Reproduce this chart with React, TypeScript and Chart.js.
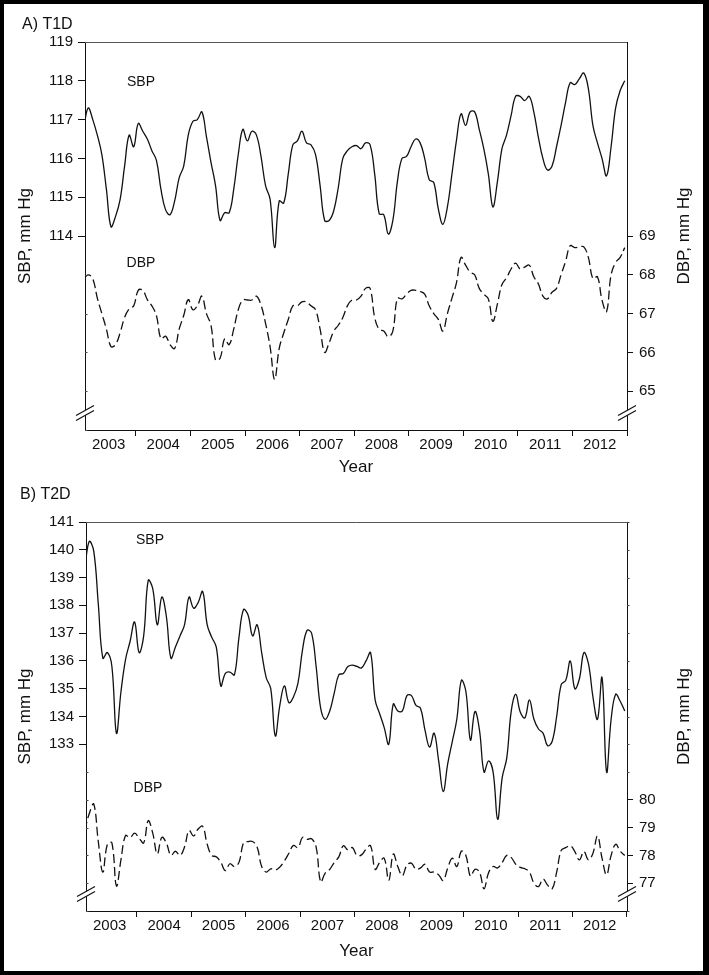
import React, { useEffect, useRef } from 'react';
import { Chart, registerables } from 'chart.js';

Chart.register(...registerables);
Chart.defaults.font.family = "'Liberation Sans', Arial, sans-serif";
Chart.defaults.color = '#111';

// ---- categories ----
const YEARS = [2003, 2004, 2005, 2006, 2007, 2008, 2009, 2010, 2011, 2012];
const YEAR_LABELS = ['2003', '2004', '2005', '2006', '2007', '2008', '2009', '2010', '2011', '2012'];
// monthly positions (mid-month) Jan 2003 .. Dec 2012
const MONTHS = YEARS.flatMap((y) => Array.from({ length: 12 }, (_, m) => y + (m + 0.5) / 12));

// ---- A) T1D ----
const T1D_SBP = [
  116.8, 117.3, 117.0, 116.6, 116.1, 115.2, 114.24, 114.5, 114.93, 115.8, 116.6, 116.3,
  116.9, 116.7, 116.5, 116.2, 115.95, 115.2, 114.68, 114.55, 114.9, 115.5, 115.8, 116.6,
  116.95, 117.0, 117.2, 116.56, 115.9, 115.3, 114.4, 114.6, 114.6, 115.2, 116.1, 116.75,
  116.45, 116.7, 116.6, 116.05, 115.3, 114.95, 113.7, 114.9, 114.85, 115.6, 116.35, 116.45,
  116.7, 116.4, 116.35, 116.1, 115.3, 114.4, 114.4, 114.65, 115.25, 116.0, 116.2, 116.3,
  116.33, 116.25, 116.4, 116.35, 115.6, 114.57, 114.55, 114.05, 114.4, 115.4, 116.0, 116.05,
  116.3, 116.5, 116.4, 116.0, 115.45, 115.38, 114.7, 114.3, 114.75, 115.6, 116.47, 117.15,
  116.85, 117.2, 117.2, 116.75, 116.25, 115.6, 114.75, 115.4, 116.25, 116.6, 117.1, 117.6,
  117.6, 117.49, 117.6, 117.2, 116.55, 116.0, 115.7, 115.8, 116.3, 116.85, 117.45, 117.95,
  117.9, 118.05, 118.2, 117.8, 116.85, 116.4, 116.0, 115.55, 116.3, 117.3, 117.75, 118.0,
];
const T1D_DBP = [
  67.9, 68.0, 67.9, 67.4, 67.0, 66.6, 66.15, 66.2, 66.5, 66.9, 67.12, 67.2,
  67.6, 67.6, 67.36, 67.2, 66.95, 66.35, 66.42, 66.2, 66.1, 66.6, 66.95, 67.36,
  67.1, 67.2, 67.45, 67.0, 66.7, 65.8, 65.85, 66.35, 66.2, 66.6, 67.1, 67.35,
  67.35, 67.35, 67.45, 67.22, 66.75, 66.15, 65.3, 66.1, 66.5, 66.85, 67.2, 67.2,
  67.3, 67.3, 67.2, 67.1, 66.6, 66.0, 66.25, 66.55, 66.7, 66.9, 67.2, 67.35,
  67.35, 67.45, 67.65, 67.65, 66.9, 66.59, 66.55, 66.4, 66.55, 67.4, 67.38, 67.5,
  67.6, 67.6, 67.57, 67.5, 67.2, 67.0, 66.85, 66.55, 67.0, 67.4, 67.8, 68.45,
  68.25, 68.07, 68.0, 67.65, 67.5, 67.38, 66.8, 67.25, 67.75, 67.92, 68.15, 68.3,
  68.15, 68.2, 68.25, 67.95, 67.77, 67.45, 67.38, 67.55, 67.65, 68.0, 68.35, 68.75,
  68.7, 68.72, 68.72, 68.45, 67.9, 67.95, 67.35, 67.05, 68.0, 68.32, 68.45, 68.7,
];
const T1D_SBP_LABELS = [114, 115, 116, 117, 118, 119];
const T1D_DBP_LABELS = [65, 66, 67, 68, 69];

// ---- B) T2D ----
const T2D_SBP = [
  139.3, 140.3, 139.95, 138.05, 136.1, 136.3, 135.8, 133.4, 134.9, 136.05, 136.7, 137.4,
  136.3, 136.9, 138.9, 138.6, 137.3, 138.3, 137.6, 136.1, 136.5, 136.9, 137.3, 138.3,
  137.9, 138.1, 138.5, 137.3, 136.85, 136.5, 135.1, 135.55, 135.6, 135.5, 136.85, 137.85,
  137.65, 136.9, 137.3, 136.3, 135.4, 135.0, 133.3, 134.4, 135.1, 134.5, 134.7, 135.2,
  136.4, 137.1, 137.0, 135.8, 134.3, 133.9, 134.2, 134.85, 135.5, 135.55, 135.8, 135.85,
  135.8, 135.75, 136.0, 136.3, 134.6, 134.1, 133.6, 133.0, 134.45, 134.2, 134.2, 134.75,
  134.75, 134.4, 134.3, 133.5, 132.9, 133.4, 132.4, 131.3, 132.3, 133.1, 133.9, 135.3,
  134.9, 133.15, 134.18, 133.5, 132.0, 132.4, 132.0, 130.3, 131.8, 132.5, 134.2, 134.8,
  134.15, 133.95, 134.6, 133.9, 133.55, 133.4, 132.95, 133.1, 134.0, 135.15, 135.3, 136.0,
  135.0, 135.35, 136.3, 135.9, 134.7, 133.9, 135.4, 132.0, 133.9, 134.8, 134.55, 134.2,
];
const T2D_DBP = [
  78.9, 79.5, 79.85, 78.5, 77.4, 78.4, 78.45, 76.9, 77.85, 78.72, 78.64, 78.8,
  78.62, 78.45, 79.25, 78.8, 78.05, 78.65, 78.45, 78.0, 78.15, 78.0, 78.3, 78.9,
  78.7, 78.95, 79.05, 78.4, 78.0, 77.95, 77.75, 77.45, 77.7, 77.6, 77.75, 78.45,
  78.5, 78.5, 78.3, 77.6, 77.4, 77.52, 77.47, 77.58, 77.8, 78.08, 78.36, 78.28,
  78.65, 78.58, 78.6, 78.3, 77.05, 77.36, 77.5, 77.75, 77.95, 78.35, 78.2, 78.28,
  78.0, 78.02, 78.23, 78.35, 77.5, 77.75, 77.9, 77.1, 78.05, 77.6, 77.27, 77.65,
  77.72, 77.5, 77.55, 77.68, 77.4, 77.4, 77.3, 77.1, 77.55, 77.9, 77.6, 78.15,
  78.0, 77.25, 77.5, 77.4, 76.8, 77.38, 77.6, 77.55, 77.75, 78.0, 77.92, 77.68,
  77.57, 77.52, 77.4, 77.0, 76.88, 77.15, 76.93, 76.8, 77.4, 78.18, 78.28, 78.35,
  78.14, 77.84, 78.14, 77.84, 78.08, 78.7, 77.9, 77.3, 78.0, 78.4, 78.15, 78.0,
];
const T2D_SBP_LABELS = [133, 134, 135, 136, 137, 138, 139, 140, 141];
const T2D_DBP_LABELS = [77, 78, 79, 80];

const INK = '#111';
const FONT = "'Liberation Sans', Arial, sans-serif";

const overlayPlugin = {
  id: 'overlay',
  afterDraw(chart: any, _args: any, o: any) {
    const { ctx, chartArea: a } = chart;
    ctx.save();
    // top frame of plot
    ctx.strokeStyle = '#555';
    ctx.lineWidth = 1;
    ctx.beginPath();
    ctx.moveTo(a.left, Math.round(a.top) + 0.5);
    ctx.lineTo(a.right, Math.round(a.top) + 0.5);
    ctx.stroke();
    // tiny minor marks for unlabeled ticks
    ctx.strokeStyle = '#444';
    ctx.lineWidth = 1;
    const minor = (id: string, labels: number[], x0: number, dir: number) => {
      const s = chart.scales[id];
      for (const t of s.ticks) {
        if (labels.includes(t.value)) continue;
        const y = Math.round(s.getPixelForValue(t.value)) + 0.5;
        ctx.beginPath();
        ctx.moveTo(x0, y);
        ctx.lineTo(x0 + dir * 2.5, y);
        ctx.stroke();
      }
    };
    minor('ySBP', o.sbpLabels, a.left, 1);
    minor('yDBP', o.dbpLabels, a.right, 1);
    // axis break marks
    const cy = a.bottom - o.breakOffset;
    for (const x of [a.left, a.right]) {
      ctx.fillStyle = '#fff';
      ctx.beginPath();
      ctx.moveTo(x - 8, cy + 1);
      ctx.lineTo(x + 8, cy - 8);
      ctx.lineTo(x + 8, cy - 3);
      ctx.lineTo(x - 8, cy + 6);
      ctx.closePath();
      ctx.fill();
      ctx.strokeStyle = INK;
      ctx.lineWidth = 1.2;
      ctx.beginPath();
      ctx.moveTo(x - 9, cy + 1.5);
      ctx.lineTo(x + 9, cy - 8.5);
      ctx.moveTo(x - 9, cy + 6.5);
      ctx.lineTo(x + 9, cy - 3.5);
      ctx.stroke();
    }
    ctx.fillStyle = INK;
    // panel label
    ctx.font = `16px ${FONT}`;
    ctx.textAlign = 'left';
    ctx.textBaseline = 'middle';
    ctx.fillText(o.label, o.labelX, o.labelY);
    // series annotations
    ctx.font = `14px ${FONT}`;
    ctx.textAlign = 'center';
    ctx.fillText('SBP', o.sbpX, o.sbpY);
    ctx.fillText('DBP', o.dbpX, o.dbpY);
    // right axis title (reads bottom-to-top)
    ctx.font = `17px ${FONT}`;
    ctx.translate(o.rightTitleX, (a.top + a.bottom) / 2);
    ctx.rotate(-Math.PI / 2);
    ctx.fillText('DBP, mm Hg', 0, 0);
    ctx.restore();
  },
};

function range(a: number, b: number) {
  const r: number[] = [];
  for (let v = a; v <= b; v++) r.push(v);
  return r;
}

function makeConfig(p: any) {
  const tickColor = (labels: number[]) => (c: any) =>
    c.tick && labels.includes(c.tick.value) ? INK : 'rgba(0,0,0,0)';
  return {
    type: 'line',
    data: {
      datasets: [
        {
          data: p.sbp.map((v: number, i: number) => ({ x: MONTHS[i], y: v })),
          yAxisID: 'ySBP',
          borderColor: INK,
          borderWidth: 1.3,
          pointRadius: 0,
          tension: 0.4,
          fill: false,
        },
        {
          data: p.dbp.map((v: number, i: number) => ({ x: MONTHS[i], y: v })),
          yAxisID: 'yDBP',
          borderColor: INK,
          borderWidth: 1.3,
          borderDash: [9, 4],
          pointRadius: 0,
          tension: 0.4,
          fill: false,
        },
      ],
    },
    options: {
      responsive: false,
      animation: false,
      events: [],
      layout: { padding: { top: p.padTop, left: 0, right: 0, bottom: 0 } },
      plugins: {
        legend: { display: false },
        tooltip: { enabled: false },
        overlay: { ...p.overlay, sbpLabels: p.sbpLabels, dbpLabels: p.dbpLabels },
      },
      scales: {
        x: {
          type: 'linear',
          bounds: 'data',
          min: 2003.066,
          max: 2013,
          afterBuildTicks: (s: any) => {
            s.ticks = YEARS.map((y) => ({ value: y + 0.5 }));
          },
          afterFit: (s: any) => {
            s.height = p.xAxisH;
          },
          grid: { offset: true, drawOnChartArea: false, drawTicks: true, tickLength: 6, color: INK, lineWidth: 1 },
          border: { display: true, color: INK, width: 1 },
          ticks: {
            autoSkip: false,
            maxRotation: 0,
            padding: 0,
            color: INK,
            font: { size: 15 },
            callback: (_v: any, i: number) => YEAR_LABELS[i],
          },
          title: { display: true, text: 'Year', color: INK, font: { size: 17 }, padding: { top: 0, bottom: p.yearPad } },
        },
        ySBP: {
          type: 'linear',
          position: 'left',
          min: p.sbpRange[0],
          max: p.sbpRange[1],
          afterBuildTicks: (s: any) => {
            s.ticks = range(p.sbpRange[0], p.sbpRange[1]).map((v) => ({ value: v }));
          },
          afterFit: (s: any) => {
            s.width = p.leftW;
          },
          grid: { drawOnChartArea: false, drawTicks: true, tickLength: 7, color: tickColor(p.sbpLabels) },
          border: { display: true, color: INK, width: 1 },
          ticks: {
            padding: 5,
            color: INK,
            font: { size: 15 },
            callback: (v: number) => (p.sbpLabels.includes(v) ? String(v) : ''),
          },
          title: { display: true, text: 'SBP, mm Hg', color: INK, font: { size: 17 }, padding: { top: 15, bottom: 0 } },
        },
        yDBP: {
          type: 'linear',
          position: 'right',
          min: p.dbpRange[0],
          max: p.dbpRange[1],
          afterBuildTicks: (s: any) => {
            s.ticks = p.dbpTicks.map((v: number) => ({ value: v }));
          },
          afterFit: (s: any) => {
            s.width = p.rightW;
          },
          grid: { drawOnChartArea: false, drawTicks: true, tickLength: 6, color: tickColor(p.dbpLabels) },
          border: { display: true, color: INK, width: 1 },
          ticks: {
            padding: 6,
            color: INK,
            font: { size: 15 },
            callback: (v: number) => (p.dbpLabels.includes(v) ? String(v) : ''),
          },
        },
      },
    },
    plugins: [overlayPlugin],
  };
}

const PANEL_A = {
  sbp: T1D_SBP,
  dbp: T1D_DBP,
  sbpRange: [109, 119],
  dbpRange: [64, 74],
  sbpLabels: T1D_SBP_LABELS,
  dbpLabels: T1D_DBP_LABELS,
  dbpTicks: T1D_DBP_LABELS,
  padTop: 42,
  xAxisH: 55,
  yearPad: 7,
  leftW: 85,
  rightW: 82,
  overlay: { label: 'A) T1D', labelX: 22, labelY: 25, sbpX: 141, sbpY: 82, dbpX: 141, dbpY: 263, rightTitleX: 684, breakOffset: 16 },
};

const PANEL_B = {
  sbp: T2D_SBP,
  dbp: T2D_DBP,
  sbpRange: [127, 141],
  dbpRange: [76, 90],
  sbpLabels: T2D_SBP_LABELS,
  dbpLabels: T2D_DBP_LABELS,
  dbpTicks: range(76, 90),
  padTop: 37,
  xAxisH: 64,
  yearPad: 13,
  leftW: 86,
  rightW: 82,
  overlay: { label: 'B) T2D', labelX: 20, labelY: 10, sbpX: 150, sbpY: 55, dbpX: 148, dbpY: 303, rightTitleX: 684, breakOffset: 16 },
};

function Panel({ cfg, top, height }: { cfg: any; top: number; height: number }) {
  const ref = useRef<HTMLCanvasElement | null>(null);
  useEffect(() => {
    if (!ref.current) return;
    const chart = new Chart(ref.current, makeConfig(cfg) as any);
    return () => chart.destroy();
  }, [cfg]);
  return (
    <canvas
      ref={ref}
      width={709}
      height={height}
      style={{ position: 'absolute', left: 0, top, width: 709, height, display: 'block' }}
    />
  );
}

export default function App() {
  useEffect(() => {
    document.body.style.margin = '0';
  }, []);
  return (
    <div style={{ position: 'relative', width: 709, height: 975, background: '#fff', overflow: 'hidden' }}>
      <Panel cfg={PANEL_A} top={0} height={485} />
      <Panel cfg={PANEL_B} top={485} height={490} />
      <div
        style={{
          position: 'absolute',
          left: 0,
          top: 0,
          width: 709,
          height: 975,
          boxSizing: 'border-box',
          border: '4px solid #000',
          borderRightWidth: 6,
          pointerEvents: 'none',
        }}
      />
    </div>
  );
}
